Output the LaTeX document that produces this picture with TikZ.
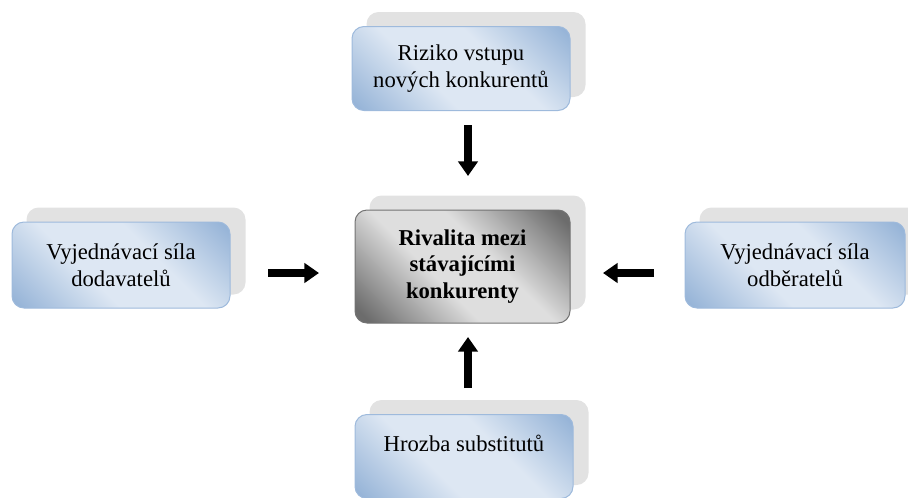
\documentclass[tikz,border=0pt]{standalone}
\usepackage{fontspec}
\setmainfont{Liberation Serif}
\usetikzlibrary{arrows.meta,backgrounds}

\definecolor{bluedark}{RGB}{149,179,215}
\definecolor{bluelight}{RGB}{221,231,243}
\definecolor{bluerim}{RGB}{158,186,220}
\definecolor{graydark}{RGB}{108,108,108}
\definecolor{graylight}{RGB}{222,222,222}
\definecolor{grayrim}{RGB}{115,115,115}
\definecolor{shadowgray}{RGB}{226,226,226}

\pgfdeclareverticalshading{bluediag}{100bp}{color(0bp)=(bluedark); color(16bp)=(bluedark); color(40bp)=(bluelight); color(60bp)=(bluelight); color(84bp)=(bluedark); color(100bp)=(bluedark)}
\pgfdeclareverticalshading{graydiag}{100bp}{color(0bp)=(graydark); color(18bp)=(graydark); color(42bp)=(graylight); color(58bp)=(graylight); color(82bp)=(graydark); color(100bp)=(graydark)}

\tikzset{every picture/.style={line width=0.75pt}}
\tikzset{
  forcebox/.style={draw=bluerim, rounded corners=9pt, shading=bluediag, shading angle=-45,
    minimum width=163.5pt, minimum height=63pt, align=center,
    font=\fontsize{17}{20}\selectfont},
  rivalbox/.style={draw=grayrim, rounded corners=9pt, shading=graydiag, shading angle=-45,
    minimum width=161.25pt, minimum height=84.75pt, align=center,
    font=\fontsize{17}{20}\selectfont\bfseries},
  shadowbox/.style={fill=shadowgray, rounded corners=9pt},
  bigarrow/.style={line width=5.6pt, -{Triangle[length=11pt,width=14.5pt]}}
}

\begin{document}
\begin{tikzpicture}[x=0.75pt,y=0.75pt,yscale=-1,xscale=1]

\useasboundingbox (0,0) rectangle (908,497);
\clip (0,0) rectangle (908,497);

\node [forcebox] (riziko) at (461,68.5) {Riziko vstupu\\nových konkurentů};
\node [rivalbox] (rivalita) at (462.5,266.5) {Rivalita mezi\\stávajícími\\konkurenty};
\node [forcebox, minimum height=64.5pt] (dodavatele) at (121,265) {Vyjednávací síla\\dodavatelů};
\node [forcebox, minimum width=165pt, minimum height=64.5pt] (odberatele) at (795,265) {Vyjednávací síla\\odběratelů};
\node [forcebox] (substituty) at (464,456.5) {Hrozba substitutů\\\mbox{}};

% shadows behind the boxes
\begin{scope}[on background layer]
\foreach \n in {riziko,rivalita,dodavatele,odberatele,substituty}
  \fill [shadowbox] ([shift={(15,-14)}]\n.south west) rectangle ([shift={(15,-14)}]\n.north east);
\end{scope}

\coordinate (rizikoA) at (468,125);
\coordinate (rizikoB) at (468,176);
\coordinate (dodavateleA) at (268,273);
\coordinate (dodavateleB) at (319,273);
\coordinate (odberateleA) at (654,273);
\coordinate (odberateleB) at (603,273);
\coordinate (substitutyA) at (468,388);
\coordinate (substitutyB) at (468,337);

\draw [bigarrow] (rizikoA) -- (rizikoB);
\draw [bigarrow] (dodavateleA) -- (dodavateleB);
\draw [bigarrow] (odberateleA) -- (odberateleB);
\draw [bigarrow] (substitutyA) -- (substitutyB);

\end{tikzpicture}
\end{document}
